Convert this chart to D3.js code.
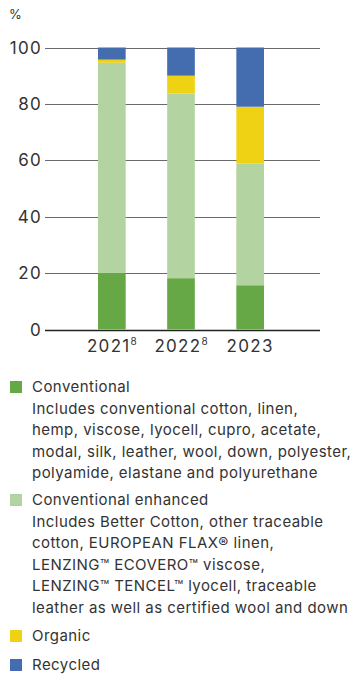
<!DOCTYPE html>
<html>
<head>
<meta charset="utf-8">
<script src="https://cdn.jsdelivr.net/npm/d3@7"></script>
<style>
  body { margin: 0; background: #fff; }
  text { font-family: Inter, "Noto Sans", sans-serif; fill: #333; }
</style>
</head>
<body>
<div id="chart"></div>
<script>
// data (percent of total)
const years = ["2021", "2022", "2023"];
const yearNotes = ["8", "8", ""];
const conventional = [20.2, 18.2, 15.7];
const enhanced     = [74.4, 65.5, 43.1];
const organic      = [1.1, 6.3, 20.2];
const recycled     = [4.3, 10.0, 21.0];
const yTicks = [0, 20, 40, 60, 80, 100];

const seriesNames = ["Conventional", "Conventional enhanced", "Organic", "Recycled"];
const seriesNotes = [
  ["Includes conventional cotton, linen,",
   "hemp, viscose, lyocell, cupro, acetate,",
   "modal, silk, leather, wool, down, polyester,",
   "polyamide, elastane and polyurethane"],
  ["Includes Better Cotton, other traceable",
   "cotton, EUROPEAN FLAX\u00ae linen,",
   "LENZING\u2122 ECOVERO\u2122 viscose,",
   "LENZING\u2122 TENCEL\u2122 lyocell, traceable",
   "leather as well as certified wool and down"],
  [],
  []
];
const colors = ["#66a846", "#b3d4a0", "#f0d215", "#446db0"];

const W = 355, H = 674;
const svg = d3.select("#chart").append("svg")
  .attr("width", W).attr("height", H);

const table = years.map((y, i) => ({
  year: y,
  "Conventional": conventional[i],
  "Conventional enhanced": enhanced[i],
  "Organic": organic[i],
  "Recycled": recycled[i]
}));
const stacked = d3.stack().keys(seriesNames)(table);

const y = d3.scaleLinear().domain([0, 100]).range([329.5, 47.5]);
const x = d3.scaleBand().domain(years).range([98, 264])
  .paddingInner(0.6).paddingOuter(0);

// "%" label
svg.append("text")
  .attr("x", 9).attr("y", 19)
  .style("font-size", "13px")
  .style("letter-spacing", "0.5px")
  .text("%");

// grid lines
svg.append("g").selectAll("line")
  .data(yTicks)
  .enter().append("line")
    .attr("x1", 45).attr("x2", 320)
    .attr("y1", d => Math.round(y(d)) + 0.5)
    .attr("y2", d => Math.round(y(d)) + 0.5)
    .attr("stroke", d => d === 0 ? "#222" : "#6a6a6a")
    .attr("stroke-width", d => d === 0 ? 1.5 : 1.2);

// y tick labels
svg.append("g").selectAll("text")
  .data(yTicks)
  .enter().append("text")
    .attr("x", 42)
    .attr("y", d => y(d) + 6)
    .attr("text-anchor", "end")
    .style("font-size", "17px")
    .style("letter-spacing", "1.3px")
    .text(d => d);

// bars
svg.append("g").selectAll("g")
  .data(stacked)
  .enter().append("g")
    .attr("fill", (d, i) => colors[i])
  .selectAll("rect")
  .data(d => d)
  .enter().append("rect")
    .attr("x", d => x(d.data.year))
    .attr("width", x.bandwidth())
    .attr("y", d => y(d[1]))
    .attr("height", d => y(d[0]) - y(d[1]));

// x labels with footnote superscripts
const xl = svg.append("g").selectAll("text")
  .data(years)
  .enter().append("text")
    .attr("x", d => x(d) + x.bandwidth() / 2)
    .attr("y", 352)
    .attr("text-anchor", "middle")
    .style("font-size", "17px")
    .style("letter-spacing", "1.3px");
xl.append("tspan").text(d => d);
xl.append("tspan")
  .attr("dy", -7)
  .style("font-size", "10px")
  .style("letter-spacing", "0px")
  .text((d, i) => yearNotes[i]);

// legend
const legendTop = [392, 505, 641, 670];
const legend = svg.append("g");
seriesNames.forEach((name, i) => {
  const g = legend.append("g")
    .attr("transform", `translate(0, ${legendTop[i]})`);
  g.append("rect")
    .attr("x", 10).attr("y", -11)
    .attr("width", 12).attr("height", 12)
    .attr("fill", colors[i]);
  g.append("text")
    .attr("x", 32).attr("y", 0)
    .style("font-size", "15px")
    .style("letter-spacing", "0.45px")
    .text(name);
  seriesNotes[i].forEach((line, j) => {
    g.append("text")
      .attr("x", 32).attr("y", 21.5 * (j + 1))
      .style("font-size", "15px")
      .style("letter-spacing", "0.45px")
      .text(line);
  });
});
</script>
</body>
</html>
